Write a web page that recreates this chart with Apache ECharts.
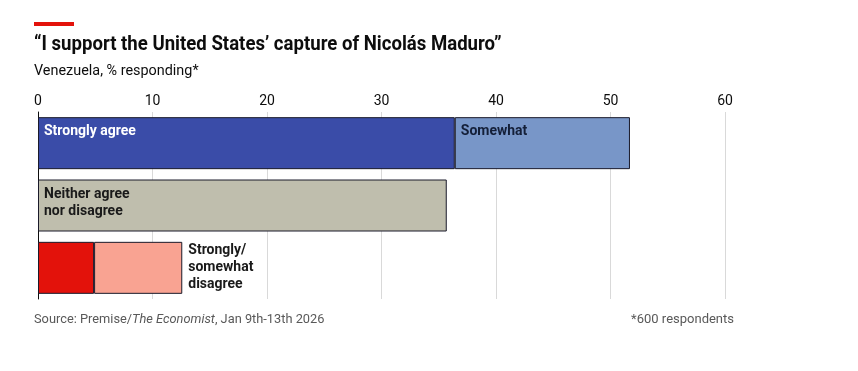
<!DOCTYPE html>
<html><head><meta charset="utf-8">
<script src="https://cdn.jsdelivr.net/npm/echarts@6/dist/echarts.min.js"></script>
<style>html,body{margin:0;padding:0;background:#fff}#c{width:858px;height:371px}</style>
</head><body><div id="c"></div>
<script>
const categories = ["Agree", "Neither", "Disagree"];
const stronglyAgree = [36.4, null, null];
const somewhatAgree = [15.3, null, null];
const neither = [null, 35.7, null];
const stronglyDisagree = [null, null, 4.9];
const somewhatDisagree = [null, null, 7.7];
const xTicks = [0, 10, 20, 30, 40, 50, 60];

const FONT = "Roboto, sans-serif";
const chart = echarts.init(document.getElementById('c'), null, {renderer: 'canvas'});
const border = {borderColor: '#1a1a2a', borderWidth: 1};
function lab(text, color, pos, extra) {
  return Object.assign({show: true, position: pos, formatter: text, color: color,
    fontFamily: FONT, fontWeight: 'bold', fontSize: 14, lineHeight: 17}, extra || {});
}
chart.setOption({
  animation: false,
  textStyle: {fontFamily: FONT},
  graphic: [
    {type: 'rect', shape: {x: 34, y: 22, width: 40, height: 4}, style: {fill: '#e3120b'}},
    {type: 'text', x: 34, y: 34, scaleX: 0.885, style: {text: '\u201cI support the United States\u2019 capture of Nicol\u00e1s Maduro\u201d', font: "bold 21px Roboto, sans-serif", fill: '#0d0d0d', textVerticalAlign: 'top'}},
    {type: 'text', x: 34, y: 64, scaleX: 0.96, style: {text: 'Venezuela, % responding*', font: "15px Roboto, sans-serif", fill: '#0d0d0d', textVerticalAlign: 'top'}},
    {type: 'text', x: 34, y: 313, scaleX: 0.985, style: {rich: {n: {font: "13px Roboto, sans-serif", fill: '#595959'}, i: {font: "italic 13px Roboto, sans-serif", fill: '#595959'}}, text: '{n|Source: Premise/}{i|The Economist}{n|, Jan 9th-13th 2026}', textVerticalAlign: 'top'}},
    {type: 'text', right: 124, top: 313, style: {text: '*600 respondents', font: "13px Roboto, sans-serif", fill: '#595959'}}
  ],
  grid: {left: 38, right: 133, top: 112, height: 187, containLabel: false},
  xAxis: {
    type: 'value', position: 'top', min: xTicks[0], max: xTicks[xTicks.length - 1], interval: 10,
    axisLine: {show: false}, axisTick: {show: false},
    axisLabel: {margin: 4, color: '#0d0d0d', fontSize: 14, fontFamily: FONT, formatter: v => xTicks.includes(v) ? String(v) : ''},
    splitLine: {lineStyle: {color: '#d9d9d9', width: 1}}
  },
  yAxis: {
    type: 'category', data: categories, inverse: true,
    axisLine: {show: true, lineStyle: {color: '#0d0d0d', width: 1}},
    axisTick: {show: false}, axisLabel: {show: false}
  },
  series: [
    {type: 'bar', stack: 's', barWidth: 52, data: stronglyAgree, itemStyle: Object.assign({color: '#3a4ca8'}, border),
      label: lab('Strongly agree', '#ffffff', 'insideTopLeft', {distance: 6})},
    {type: 'bar', stack: 's', barWidth: 52, data: somewhatAgree, itemStyle: Object.assign({color: '#7896c8'}, border),
      label: lab('Somewhat', '#141f38', 'insideTopLeft', {distance: 6})},
    {type: 'bar', stack: 's', barWidth: 52, data: neither, itemStyle: Object.assign({color: '#bfbead'}, border),
      label: lab('Neither agree\nnor disagree', '#1a1a1a', 'insideTopLeft', {distance: 6})},
    {type: 'bar', stack: 's', barWidth: 52, data: stronglyDisagree, itemStyle: Object.assign({color: '#e3120b'}, border)},
    {type: 'bar', stack: 's', barWidth: 52, data: somewhatDisagree, itemStyle: Object.assign({color: '#f9a392'}, border),
      label: lab('Strongly/\nsomewhat\ndisagree', '#1a1a1a', 'right', {distance: 6, align: 'left'})}
  ]
});
</script></body></html>
